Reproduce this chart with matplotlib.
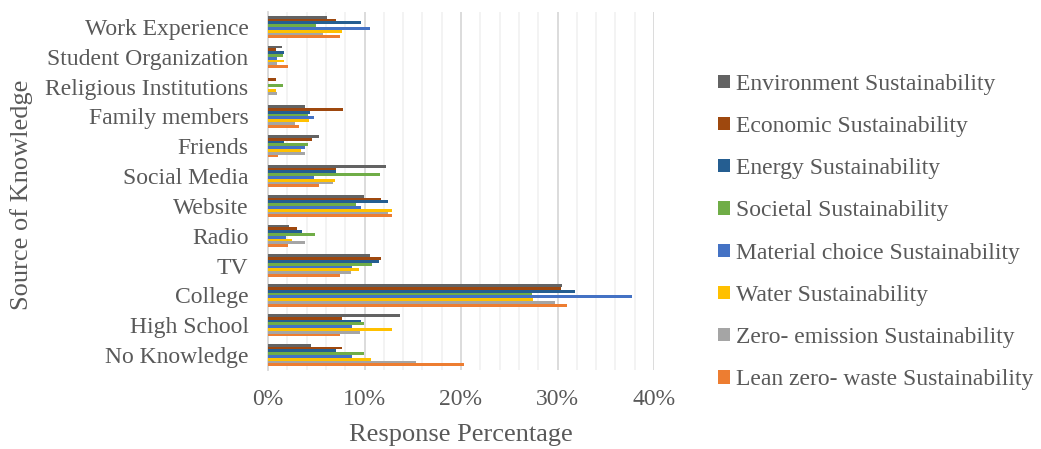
import matplotlib
matplotlib.use("Agg")
import matplotlib.pyplot as plt
import numpy as np
from matplotlib.patches import Patch
from matplotlib.ticker import MultipleLocator, PercentFormatter

plt.rcParams["font.family"] = ["Liberation Serif", "DejaVu Serif"]
TXT = "#595959"

categories = ["Work Experience", "Student Organization", "Religious Institutions",
              "Family members", "Friends", "Social Media", "Website", "Radio", "TV",
              "College", "High School", "No Knowledge"]

series = ["Environment Sustainability", "Economic Sustainability", "Energy Sustainability",
          "Societal Sustainability", "Material choice Sustainability", "Water Sustainability",
          "Zero- emission Sustainability", "Lean zero- waste Sustainability"]

colors = ["#636363", "#9E480E", "#255E91", "#70AD47", "#4472C4", "#FFC000", "#A5A5A5", "#ED7D31"]

# percent of responses, one list per series, in category order
environment = [6.1, 1.5, 0.0, 3.8, 5.3, 12.2, 9.9, 2.2, 10.6, 30.5, 13.7, 4.5]
economic    = [7.0, 0.8, 0.8, 7.8, 4.6, 7.0, 11.7, 3.0, 11.7, 30.4, 7.7, 7.7]
energy      = [9.6, 1.7, 0.0, 4.4, 1.7, 7.0, 12.4, 3.5, 11.5, 31.8, 9.6, 7.0]
societal    = [5.0, 1.6, 1.6, 4.1, 4.1, 11.6, 9.1, 4.9, 10.8, 27.4, 9.9, 9.9]
material    = [10.6, 0.9, 0.0, 4.8, 3.8, 4.8, 9.6, 1.9, 8.7, 37.7, 8.7, 8.7]
water       = [7.7, 1.7, 0.8, 4.3, 3.4, 6.9, 12.9, 2.5, 9.4, 27.5, 12.9, 10.7]
zero_emis   = [5.7, 0.9, 0.9, 2.8, 3.8, 6.7, 12.4, 3.8, 8.6, 29.7, 9.5, 15.3]
lean_waste  = [7.5, 2.1, 0.0, 3.2, 1.0, 5.3, 12.8, 2.1, 7.5, 31.0, 7.5, 20.3]

values = [environment, economic, energy, societal, material, water, zero_emis, lean_waste]

fig = plt.figure(figsize=(10.41, 4.49), dpi=100)
ax = fig.add_axes([268 / 1041, 1 - 370 / 449, (654 - 268) / 1041, (370 - 12) / 449])

n = len(series)
y = np.arange(len(categories))
group = 0.75
h = group / n
for i, (vals, c) in enumerate(zip(values, colors)):
    # first series sits at the top of each group
    ax.barh(y - group / 2 + h * (i + 0.5), vals, height=h, color=c, zorder=3)

ax.set_ylim(len(categories) - 0.5, -0.5)
ax.set_yticks(y)
ax.set_yticklabels(categories)
ax.set_xlim(0, 40)
ax.xaxis.set_major_locator(MultipleLocator(10))
ax.xaxis.set_minor_locator(MultipleLocator(2))
ax.xaxis.set_major_formatter(PercentFormatter(decimals=0))
ax.grid(axis="x", which="major", color="#D9D9D9", lw=1.3, zorder=0)
ax.grid(axis="x", which="minor", color="#F2F2F2", lw=1.3, zorder=0)

for s in ["top", "right", "bottom"]:
    ax.spines[s].set_visible(False)
ax.spines["left"].set_color("#D9D9D9")
ax.spines["left"].set_linewidth(1.3)
ax.tick_params(axis="both", which="both", length=0, labelcolor=TXT, labelsize=17)
ax.tick_params(axis="y", pad=14)
ax.tick_params(axis="x", pad=13.5)

ax.set_xlabel("Response Percentage", fontsize=19, color=TXT, labelpad=10)
fig.text(22 / 1041, 1 - 195 / 449, "Source of Knowledge", rotation=90, fontsize=19,
         color=TXT, ha="center", va="center")

handles = [Patch(facecolor=c, edgecolor="none") for c in colors]
fig.legend(handles, series, loc="center left", bbox_to_anchor=(718 / 1041, 1 - 232 / 449),
           frameon=False, fontsize=17, labelcolor=TXT, handlelength=0.5, handleheight=0.5,
           handletextpad=0.25, labelspacing=0.9, borderpad=0, borderaxespad=0)

fig.savefig("out.png", dpi=100)
